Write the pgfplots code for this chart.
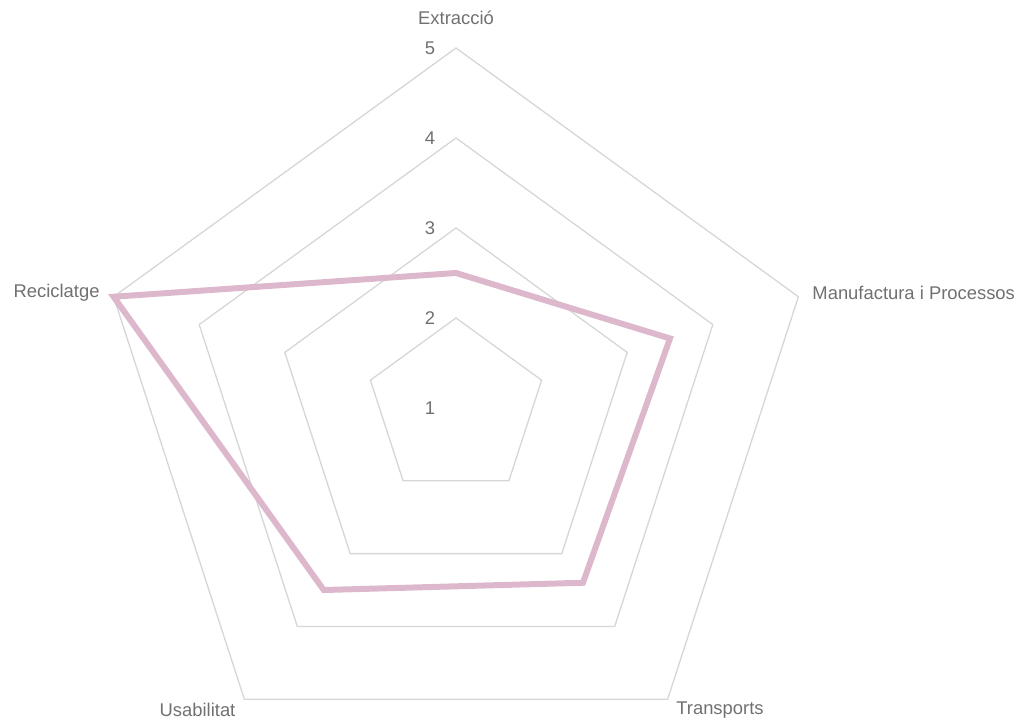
\documentclass[border=0pt]{standalone}
\usepackage{pgfplots}
\pgfplotsset{compat=1.18}
\usepackage{pgfplotstable}
\usepackage{fontspec}
\setmainfont{Liberation Sans}
\definecolor{gridgray}{RGB}{214,214,214}
\definecolor{labelgray}{RGB}{112,112,112}
\definecolor{mauve}{RGB}{221,184,204}

% angle (deg) and score for each axis of the radar
\pgfplotstableread{
a    v
90   2.5
18   3.5
-54  3.4
-126 3.5
162  5
}\scores

\begin{document}
\begin{tikzpicture}[lbl/.style={text=labelgray, inner sep=0pt, font=\fontsize{9.2}{11}\selectfont}]
\begin{axis}[
    scale only axis,
    width=508.5pt, height=361pt,
    xmin=-5.0667, xmax=6.2333,
    ymin=-3.4889, ymax=4.5333,
    hide axis,
    clip=false,
]
% pentagon rings (radius = level - 1)
\foreach \r in {1,2,3,4}{
  \edef\tmp{\noexpand\addplot[gridgray, line width=0.65pt, data cs=polar, mark=none]
    coordinates {(90,\r) (18,\r) (-54,\r) (-126,\r) (162,\r)} -- cycle;}
  \tmp
}

\addplot[mauve, line width=3pt, mark=none, line join=miter]
  table[x expr={(\thisrow{v}-1)*cos(\thisrow{a})},
        y expr={(\thisrow{v}-1)*sin(\thisrow{a})}] {\scores} -- cycle;

% ring labels
\foreach \k in {1,...,5}{
  \edef\tmp{\noexpand\node[lbl] at (axis cs:-0.289,\k-1) {\k};}
  \tmp
}

% axis labels
\node[lbl] at (axis cs:0,4.333) {Extracció};
\node[lbl, anchor=west] at (axis cs:3.956,1.278) {Manufactura i Processos};
\node[lbl, anchor=east] at (axis cs:-3.956,1.278) {Reciclatge};
\node[lbl] at (axis cs:2.933,-3.356) {Transports};
\node[lbl] at (axis cs:-2.872,-3.356) {Usabilitat};
\end{axis}
\pgfresetboundingbox
\path (current axis.south west) rectangle (current axis.north east);
\end{tikzpicture}
\end{document}
